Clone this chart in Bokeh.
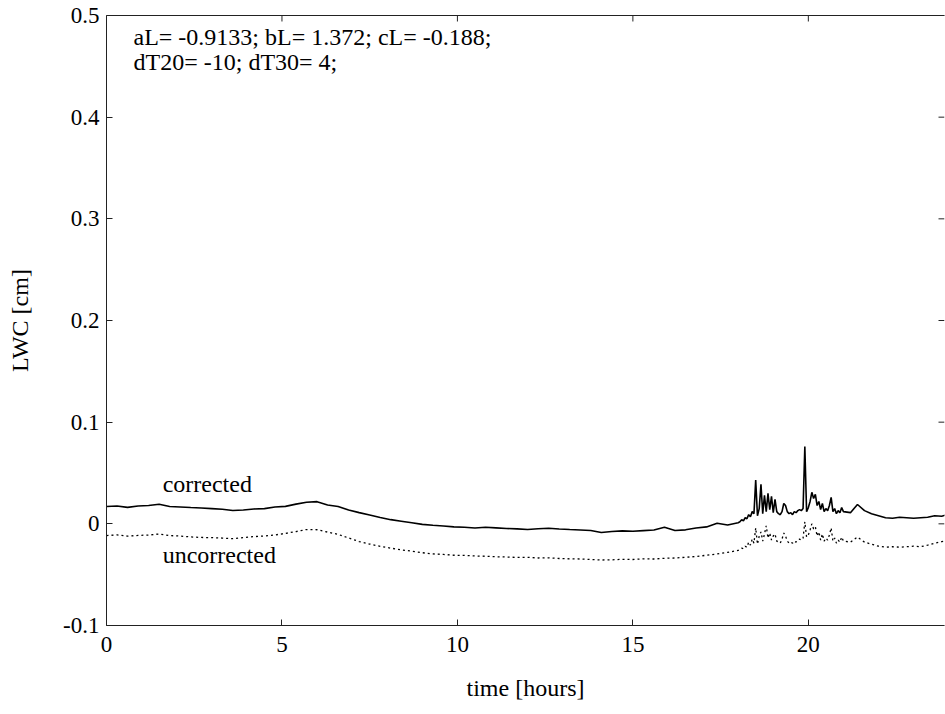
from bokeh.plotting import figure
from bokeh.models import LinearAxis, FixedTicker, Label, PrintfTickFormatter
from bokeh.embed import file_html
from bokeh.resources import INLINE

# ---------------- data ----------------
time_h = [
    0.0, 0.3, 0.6, 0.9, 1.2, 1.5, 1.8, 2.1, 2.4, 2.7, 3.0, 3.3, 3.6, 3.9, 4.2, 4.5,
    4.8, 5.1, 5.4, 5.7, 6.0, 6.3, 6.6, 6.9, 7.2, 7.5, 7.8, 8.1, 8.4, 8.7, 9.0, 9.3,
    9.6, 9.9, 10.2, 10.5, 10.8, 11.1, 11.4, 11.7, 12.0, 12.3, 12.6, 12.9, 13.2, 13.5,
    13.8, 14.1, 14.4, 14.7, 15.0, 15.3, 15.6, 15.9, 16.2, 16.5, 16.8, 17.1, 17.4, 17.7, 18.0,
    18.05, 18.10, 18.15, 18.20, 18.25, 18.30, 18.35, 18.40, 18.45, 18.50,
    18.55, 18.60, 18.65, 18.70, 18.75, 18.80, 18.85, 18.90, 18.95, 19.00,
    19.05, 19.10, 19.15, 19.20, 19.25, 19.30, 19.35, 19.40, 19.45, 19.50,
    19.55, 19.60, 19.65, 19.70, 19.75, 19.80, 19.85, 19.90, 19.95, 20.00,
    20.05, 20.10, 20.15, 20.20, 20.25, 20.30, 20.35, 20.40, 20.45, 20.50,
    20.55, 20.60, 20.65, 20.70, 20.75, 20.80, 20.85, 20.90, 20.95, 21.00,
    21.2, 21.4, 21.6, 21.8, 22.0, 22.2, 22.4, 22.6, 22.8, 23.0, 23.2, 23.4, 23.6, 23.8, 23.9,
]

lwc_corrected = [
    0.0170, 0.0175, 0.0162, 0.0176, 0.0180, 0.0193, 0.0170, 0.0166, 0.0160, 0.0155,
    0.0150, 0.0144, 0.0131, 0.0136, 0.0146, 0.0150, 0.0165, 0.0172, 0.0194, 0.0212,
    0.0218, 0.0186, 0.0170, 0.0136, 0.0110, 0.0086, 0.0062, 0.0041, 0.0026, 0.0011,
    -0.0005, -0.0014, -0.0021, -0.0030, -0.0034, -0.0041, -0.0034, -0.0040, -0.0046, -0.0050,
    -0.0056, -0.0049, -0.0044, -0.0051, -0.0056, -0.0060, -0.0066, -0.0086, -0.0075, -0.0069,
    -0.0073, -0.0067, -0.0061, -0.0034, -0.0066, -0.0059, -0.0041, -0.0030, 0.0006, -0.0012,
    0.0011,
    0.002, 0.004, 0.003, 0.006, 0.005, 0.009, 0.007, 0.012, 0.010, 0.043,
    0.008, 0.015, 0.039, 0.010, 0.028, 0.012, 0.030, 0.014, 0.027, 0.011,
    0.024, 0.012, 0.010, 0.009, 0.012, 0.020, 0.018, 0.012, 0.010, 0.011,
    0.009, 0.012, 0.011, 0.013, 0.014, 0.013, 0.015, 0.076, 0.012, 0.016,
    0.022, 0.031, 0.025, 0.029, 0.018, 0.022, 0.014, 0.020, 0.012, 0.015,
    0.013, 0.018, 0.026, 0.012, 0.015, 0.010, 0.013, 0.011, 0.016, 0.012,
    0.011, 0.019, 0.013, 0.010, 0.008, 0.006, 0.0055, 0.0065, 0.006, 0.0055,
    0.006, 0.0065, 0.008, 0.0075, 0.0085,
]

lwc_uncorrected = [
    -0.0115, -0.0109, -0.0121, -0.0114, -0.0110, -0.0100, -0.0116, -0.0120, -0.0129, -0.0134,
    -0.0136, -0.0140, -0.0146, -0.0135, -0.0126, -0.0119, -0.0109, -0.0094, -0.0076, -0.0056,
    -0.0058, -0.0081, -0.0104, -0.0139, -0.0174, -0.0199, -0.0221, -0.0239, -0.0256, -0.0269,
    -0.0284, -0.0296, -0.0301, -0.0309, -0.0311, -0.0316, -0.0319, -0.0324, -0.0326, -0.0331,
    -0.0329, -0.0336, -0.0334, -0.0341, -0.0344, -0.0346, -0.0351, -0.0356, -0.0354, -0.0349,
    -0.0351, -0.0344, -0.0346, -0.0339, -0.0336, -0.0329, -0.0321, -0.0309, -0.0296, -0.0281,
    -0.0262,
    -0.025, -0.024, -0.0245, -0.022, -0.023, -0.018, -0.021, -0.015, -0.019, -0.004,
    -0.020, -0.012, -0.008, -0.017, -0.010, -0.002, -0.014, -0.009, -0.016, -0.012,
    -0.010, -0.017, -0.018, -0.019, -0.015, -0.009, -0.012, -0.017, -0.019, -0.018,
    -0.019, -0.017, -0.018, -0.016, -0.015, -0.016, -0.014, 0.002, -0.013, -0.011,
    -0.006, 0.000, -0.005, -0.003, -0.012, -0.008, -0.016, -0.010, -0.017, -0.014,
    -0.016, -0.011, -0.004, -0.017, -0.014, -0.019, -0.016, -0.018, -0.013, -0.017,
    -0.018, -0.013, -0.018, -0.020, -0.022, -0.023, -0.0225, -0.023, -0.0225, -0.022,
    -0.0225, -0.021, -0.019, -0.0175, -0.017,
]

x_ticks = [0, 5, 10, 15, 20]
y_ticks = [-0.1, 0, 0.1, 0.2, 0.3, 0.4, 0.5]
x_start, x_end = 0, 23.88
y_start, y_end = -0.1, 0.5

series_labels = ["corrected", "uncorrected"]
label_pos_x = [1.6, 1.6]
label_pos_y = [0.0396, -0.031]

annotation_lines = ["aL= -0.9133; bL= 1.372; cL= -0.188;", "dT20= -10; dT30= 4;"]
annotation_x = 0.77
annotation_y = [0.4784, 0.4538]

FONT = "Liberation Serif"
FS = "24px"
TICK_FS = "23px"
INK = "#222222"

# ---------------- figure ----------------
p = figure(width=945, height=714, x_range=(x_start, x_end), y_range=(y_start, y_end),
           output_backend="svg", toolbar_location=None,
           min_border_left=106, min_border_right=1, min_border_top=15, min_border_bottom=89)
p.outline_line_color = None
p.grid.visible = False
p.background_fill_color = "white"
p.border_fill_color = "white"

p.line(time_h, lwc_corrected, line_color="black", line_width=1.6)
p.line(time_h, lwc_uncorrected, line_color="black", line_width=1.3, line_dash="2 3")


def style_axis(ax):
    ax.axis_line_color = INK
    ax.axis_line_width = 1
    ax.major_tick_in = 6
    ax.major_tick_out = 0
    ax.major_tick_line_color = INK
    ax.minor_tick_line_color = None
    ax.major_label_text_font = FONT
    ax.major_label_text_font_size = TICK_FS
    ax.major_label_text_color = "black"
    ax.axis_label_text_font = FONT
    ax.axis_label_text_font_size = FS
    ax.axis_label_text_font_style = "normal"
    ax.axis_label_text_color = "black"


xa = p.xaxis[0]
style_axis(xa)
xa.ticker = FixedTicker(ticks=x_ticks)
xa.axis_label = "time [hours]"
xa.major_label_standoff = 11
xa.axis_label_standoff = 20

ya = p.yaxis[0]
style_axis(ya)
ya.ticker = FixedTicker(ticks=y_ticks)
ya.formatter = PrintfTickFormatter(format="%g")
ya.axis_label = "LWC [cm]"
ya.major_label_standoff = 7
ya.axis_label_standoff = 27

# top border line (no ticks / labels of its own)
top = LinearAxis(ticker=FixedTicker(ticks=[]))
style_axis(top)
p.add_layout(top, "above")

# inward tick marks on the top and right edges (box style)
tick_len_y = 6 / 1016.7 * (y_end - y_start) / 0.6
tick_len_x = 6 / 35.1
p.segment(x0=x_ticks, y0=[y_end] * len(x_ticks), x1=x_ticks,
          y1=[y_end - tick_len_y] * len(x_ticks), line_color=INK, line_width=1)
p.segment(x0=[x_end] * len(y_ticks), y0=y_ticks, x1=[x_end - tick_len_x] * len(y_ticks),
          y1=y_ticks, line_color=INK, line_width=1)

for t, lx, ly in zip(series_labels, label_pos_x, label_pos_y):
    p.add_layout(Label(x=lx, y=ly, text=t, text_baseline="middle", text_align="left",
                       text_font=FONT, text_font_size=FS, text_color="black"))

for t, ly in zip(annotation_lines, annotation_y):
    p.add_layout(Label(x=annotation_x, y=ly, text=t, text_baseline="middle", text_align="left",
                       text_font=FONT, text_font_size=FS, text_color="black"))

open("out.html", "w").write(file_html(p, INLINE))
